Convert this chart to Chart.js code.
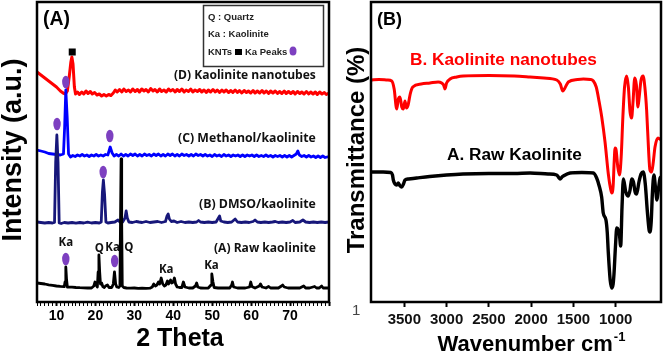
<!DOCTYPE html>
<html>
<head>
<meta charset="utf-8">
<script src="https://cdn.jsdelivr.net/npm/chart.js@4.4.0/dist/chart.umd.min.js"></script>
<style>
html,body{margin:0;padding:0;background:#fff;}
#wrap{position:relative;width:664px;height:355px;overflow:hidden;}
#xrd{position:absolute;left:0;top:0;}
#ftir{position:absolute;left:334px;top:0;}
</style>
</head>
<body>
<div id="wrap">
<canvas id="xrd" width="334" height="355"></canvas>
<canvas id="ftir" width="330" height="355"></canvas>
</div>
<script>
// ---- XRD (panel A): [2theta, intensity offset a.u.] ----
const rawKaolinite = [[5,19],[6,18.5],[7,18],[8,17.2],[9,16.6],[10,16],[11,15.6],[12,15.3],[12.2,20],[12.4,35],[12.6,22],[12.8,15],[14,14.8],[15,14.5],[16,14.3],[17,14.2],[18,14],[19,14],[19.6,16],[19.9,20],[20.2,17],[20.5,15],[20.7,30],[20.9,47],[21.1,30],[21.3,18],[21.6,19],[21.9,15.5],[22.3,14.5],[22.6,16],[23.1,17],[23.5,14.5],[24.2,14.5],[24.6,18],[24.9,30],[25.2,18],[25.5,15],[26,14.5],[26.3,16],[26.45,80],[26.6,143],[26.75,80],[26.9,16],[27.3,14.5],[28,14],[29,13.8],[30,14],[31,13.6],[32,13.8],[33,13.6],[34,13.8],[34.6,15],[35,18],[35.4,16],[35.8,17],[36.2,20],[36.5,18],[36.9,24],[37.3,18],[37.7,16],[38.1,17],[38.5,21],[38.8,18],[39.3,22],[39.6,19],[40,20],[40.3,24],[40.6,18],[41,15],[41.6,14.5],[42.2,14.5],[42.6,20],[43,15],[44,14],[45,14],[45.7,16],[46,19],[46.3,15],[47,14],[48,13.8],[49,14],[49.7,17],[49.9,28],[50.2,20],[50.5,14.5],[51.5,14],[53,14],[54.5,14],[55,17],[55.2,20],[55.5,15],[56.5,14],[57.5,14],[58.5,14],[59.6,15],[59.9,20],[60.2,15.5],[61,14],[62.1,16],[62.4,18],[62.8,15],[63.8,14],[64.5,15.5],[65,14],[66,14],[67,14],[67.8,16],[68.1,17],[68.5,15],[69.5,14],[70.5,14],[71.5,14],[72.5,14],[73.5,16],[74,14],[75,14],[76.3,15.5],[76.8,14],[77.5,14],[78.1,16],[78.5,14],[80,14]];

const dmsoKaolinite = [[5,80],[6,79.5],[7,79],[8,79.5],[9,79],[9.5,79.5],[9.8,140],[10.1,167],[10.4,140],[10.7,79],[11.2,78.5],[12,79.5],[13,79],[14,79.5],[15,78.8],[16,79.5],[17,79],[18,79.8],[19,79],[20,79.5],[21,79],[21.5,80],[21.8,110],[22.05,122],[22.35,108],[22.7,80],[23.2,79],[24,79.5],[25,80],[25.8,82],[26.3,80],[27,80],[27.6,84],[27.9,91],[28.2,84],[28.6,80],[29.5,79.5],[30.5,80.5],[31.2,80],[32,79.5],[33,80.5],[34,79.5],[35,80],[36,80.5],[37,79.5],[38,80.5],[38.4,86],[38.7,88],[39,83],[39.5,80.5],[40.2,81],[41,79.5],[42,80.5],[43,79.5],[44,80],[45,79.5],[46,80],[46.5,81.5],[47,80],[48,79.5],[49,80],[50,79.5],[51,80],[51.6,84],[51.9,86],[52.2,81],[53,80],[54,79.5],[55,80],[55.9,83],[56.5,80],[57.5,79.5],[58.5,80],[59.5,79.5],[60.5,80.5],[61,82],[61.6,80],[62.5,79.5],[63.5,80],[64.5,79.5],[65.5,80],[66.2,80.5],[67,79.5],[68,80],[69,79.5],[70,80],[70.7,81.5],[71.3,79.5],[72.5,80],[73.3,82],[74,80],[75,79.5],[76,80],[77,79.5],[78,80],[79,79.5],[80,80]];

const methanolKaolinite = [[5,152],[6,151],[7,150],[8,148.5],[9,148],[10,147.5],[11,147],[11.8,148],[12.1,175],[12.4,212],[12.75,185],[13.1,148],[13.6,145],[14.2,146.5],[14.8,145.5],[15.4,147],[16,146],[16.6,147.5],[17.2,146],[17.8,147],[18.4,145.5],[19,147],[19.6,146],[20.2,147.5],[20.8,146],[21.4,147],[22,146],[22.6,147.5],[23.2,147],[23.8,155],[24.3,149],[24.8,146],[25.4,147.5],[26,146],[26.6,148],[27.2,146],[27.8,147.5],[28.4,146],[29,148],[29.6,146.5],[30.2,148],[30.8,146],[31.4,147.5],[32,146],[32.6,148],[33.2,146.5],[33.8,147.5],[34.4,146],[35,148],[35.6,146.5],[36.2,148],[36.8,146],[37.4,147.5],[38,146],[38.6,148],[39.2,146.5],[39.8,148],[40.4,146],[41,147.5],[41.6,146],[42.2,148],[42.8,146.5],[43.4,147.5],[44,146],[44.6,147.5],[45.2,146],[45.8,148],[46.4,146.5],[47,147.5],[47.6,146],[48.2,147.5],[48.8,146],[49.4,147],[50,145.5],[50.6,147.5],[51.2,146],[51.8,147],[52.4,145.5],[53,147.5],[53.6,146],[54.2,147],[54.8,145.5],[55.4,147],[56,146],[56.6,147],[57.2,145.5],[57.8,147],[58.4,145.5],[59,147],[59.6,146],[60.2,147],[60.8,145.5],[61.4,147],[62,145.5],[62.6,146.5],[63.2,145.5],[63.8,147],[64.4,145.5],[65,146.5],[65.6,145],[66.2,146.5],[66.8,145.5],[67.4,146.5],[68,145],[68.6,146.5],[69.2,145],[69.8,146.5],[70.4,145],[71,146.5],[71.6,148],[72,151],[72.4,147],[73,145.5],[73.6,146.5],[74.2,145],[74.8,146.5],[75.4,145],[76,146],[76.6,144.5],[77.2,146],[77.8,144.5],[78.4,146],[79,144.5],[80,145.5]];

const kaoliniteNanotubes = [[5,230],[6,227],[7,224],[8,221],[9,218],[10,215],[11,211],[11.7,209],[12.3,208],[12.8,211],[13.3,226],[13.7,240],[13.95,245],[14.25,238],[14.6,215],[14.9,208],[15.4,210],[15.9,207.5],[16.5,210],[17,208],[17.6,211],[18.1,208.5],[18.7,210.5],[19.2,208],[19.8,209.5],[20.4,207],[21,208],[21.6,206],[22.2,207.5],[22.8,206],[23.4,207.5],[24,206.5],[24.6,209],[25.1,212],[25.6,210],[26.2,212.5],[26.8,210],[27.3,213],[27.9,210.5],[28.5,212],[29,210],[29.6,213],[30.2,210.5],[30.8,212.5],[31.3,210],[31.9,213],[32.5,211],[33,212.5],[33.6,210],[34.2,213.5],[34.8,211],[35.3,212.5],[35.9,210],[36.5,213],[37,210.5],[37.6,212],[38.2,210],[38.8,213],[39.3,211],[39.9,212.5],[40.5,210],[41,212.5],[41.6,210.5],[42.2,213],[42.8,210],[43.3,212],[43.9,210.5],[44.5,213],[45,210],[45.6,212],[46.2,210.5],[46.8,212.5],[47.3,210],[47.9,212],[48.5,209.5],[49,212],[49.6,210],[50.2,212.5],[50.8,210],[51.3,212],[51.9,209.5],[52.5,212],[53,210],[53.6,212],[54.2,209.5],[54.8,211.5],[55.3,209.5],[55.9,212],[56.5,209.5],[57,211.5],[57.6,209],[58.2,211.5],[58.8,209.5],[59.3,211],[59.9,209],[60.5,211.5],[61,209],[61.6,211],[62.2,209],[62.8,211.5],[63.3,209],[63.9,211],[64.5,208.5],[65,211],[65.6,209],[66.2,211],[66.8,208.5],[67.3,210.5],[67.9,208.5],[68.5,211],[69,208.5],[69.6,210.5],[70.2,208.5],[70.8,210.5],[71.3,208],[71.9,210.5],[72.5,208.5],[73,210],[73.6,208],[74.2,210.5],[74.8,208],[75.3,210],[75.9,208],[76.5,210],[77,207.5],[77.6,210],[78.2,208],[78.8,209.5],[79.3,207.5],[80,209]];

// peak markers [2theta, level]
const kaPeakMarks = [[12.4,220],[10.15,178],[23.7,166],[22.0,130],[12.4,43],[24.95,41]];
const kntMarks = [[14.05,250]];
// small phase labels on raw pattern [text, 2theta, level]
const phaseLabels = [['Ka',12.4,59.5],['Q',21.0,53.7],['Ka',24.4,54],['Q',28.6,54],['Ka',38.2,32.7],['Ka',49.8,36.7]];
const xrdLabels = ['(D) Kaolinite nanotubes','(C) Methanol/kaolinite','(B) DMSO/kaolinite','(A) Raw kaolinite'];
const xrdTickLabels = [10,20,30,40,50,60,70];

// ---- FTIR (panel B): [wavenumber, transmittance offset] ----
const ftirNanotubes = [[3894,222],[3800,222.5],[3700,222],[3649,221],[3620,213],[3590,193],[3570,203],[3551,205],[3530,195],[3512,193],[3492,201],[3475,194],[3455,197],[3430,208],[3400,215],[3300,218],[3196,219],[3100,220],[3058,219],[3035,217],[3019,213],[3000,219],[2959,223],[2880,225],[2802,226],[2500,226.5],[2200,226],[2013,225],[1850,224],[1697,222],[1655,218],[1625,211],[1600,214],[1560,220],[1450,222.5],[1382,223],[1300,222.5],[1264,221],[1230,215],[1195,200],[1165,185],[1126,160],[1087,128],[1060,113],[1046,109],[1030,116],[1018,140],[1007,154],[995,152],[975,135],[955,127],[935,145],[915,185],[895,215],[870,226],[850,215],[830,190],[812,184],[795,200],[775,224],[755,217],[737,195],[722,205],[700,222],[675,226],[655,215],[634,192],[610,150],[595,132],[574,130],[555,140],[535,155],[500,164],[464,162]];

const ftirRaw = [[3894,130],[3750,130],[3660,129.5],[3640,127],[3630,122],[3610,118],[3590,117],[3571,119],[3550,116],[3531,115],[3510,118],[3492,122],[3450,123],[3353,124],[3200,125.5],[3000,127],[2806,128],[2500,128.5],[2200,128.5],[2013,129],[1800,128],[1697,127],[1670,124],[1658,123],[1635,125],[1619,126],[1540,129],[1400,129.5],[1264,129],[1225,124],[1195,116],[1166,105],[1147,89],[1115,82],[1100,70],[1087,49],[1065,22],[1047,14],[1030,18],[1020,28],[1003,55],[987,74],[968,72],[956,68],[941,56],[925,95],[909,123],[880,110],[851,106],[830,112],[811,123],[790,120],[770,110],[752,108],[725,120],[700,128],[674,130],[650,118],[625,90],[605,72],[595,70],[580,80],[565,110],[548,127],[530,115],[512,102],[495,112],[475,124],[464,125]];

const ftirTickValues = [1000,1500,2000,2500,3000,3500];

const PURPLE = '#7d40c0';
const BOLD = 'Liberation Sans';

function pts(arr){ return arr.map(p => ({x:p[0], y:p[1]})); }

function fitText(ctx, text, weight, family, width){
  ctx.font = weight + ' 20px "' + family + '"';
  const s = 20 * width / ctx.measureText(text).width;
  ctx.font = weight + ' ' + s.toFixed(2) + 'px "' + family + '"';
}

function line(data, color, w){
  return {data: pts(data), borderColor: color, borderWidth: w, pointRadius: 0, fill: false, tension: 0, borderJoinStyle: 'round'};
}

// ---------- Panel A ----------
const xrdDecor = {
  id: 'xrdDecor',
  afterDatasetsDraw(chart){
    const ctx = chart.ctx, a = chart.chartArea;
    const xs = chart.scales.x, ys = chart.scales.y;
    ctx.save();
    // frame
    ctx.lineWidth = 2.5; ctx.strokeStyle = '#000';
    ctx.strokeRect(a.left, a.top, a.right - a.left, a.bottom - a.top);

    // peak markers
    ctx.fillStyle = PURPLE;
    kaPeakMarks.forEach(m => {
      ctx.beginPath();
      ctx.ellipse(xs.getPixelForValue(m[0]), ys.getPixelForValue(m[1]), 3.7, 6.3, 0, 0, Math.PI*2);
      ctx.fill();
    });
    ctx.fillStyle = '#000';
    kntMarks.forEach(m => {
      ctx.fillRect(xs.getPixelForValue(m[0]) - 3.5, ys.getPixelForValue(m[1]) - 3.5, 7, 7);
    });

    ctx.textBaseline = 'middle';
    // phase labels
    ctx.fillStyle = '#111';
    ctx.textAlign = 'center';
    ctx.font = 'bold 11.5px "Open Sans"';
    phaseLabels.forEach(l => ctx.fillText(l[0], xs.getPixelForValue(l[1]), ys.getPixelForValue(l[2])));

    // curve labels
    const lw = [142, 138, 117, 102], ly = [76, 138, 204, 249];
    ctx.textAlign = 'left';
    xrdLabels.forEach((t, i) => {
      fitText(ctx, t, 'bold', 'Open Sans', lw[i]);
      ctx.fillText(t, 316 - lw[i], ly[i]);
    });

    // panel letter
    ctx.fillStyle = '#000';
    fitText(ctx, '(A)', 'bold', BOLD, 27);
    ctx.fillText('(A)', 43, 20);

    // key box
    ctx.lineWidth = 1.5; ctx.strokeStyle = '#333';
    ctx.strokeRect(203.5, 5.5, 120, 61);
    ctx.fillStyle = '#222';
    ctx.font = 'bold 9.5px "Liberation Sans"';
    ctx.fillText('Q : Quartz', 208, 17);
    ctx.fillText('Ka : Kaolinite', 208, 34);
    ctx.fillText('KNTs', 208, 52);
    ctx.fillStyle = '#000';
    ctx.fillRect(235, 49, 7, 6);
    ctx.fillStyle = '#222';
    ctx.fillText('Ka Peaks', 245, 52);
    ctx.fillStyle = PURPLE;
    ctx.beginPath(); ctx.ellipse(293, 51, 3.5, 4.5, 0, 0, Math.PI*2); ctx.fill();

    // axis titles
    ctx.fillStyle = '#000';
    ctx.textAlign = 'center';
    ctx.font = 'bold 25px "Liberation Sans"';
    ctx.fillText('2 Theta', 180, 339);
    ctx.save();
    ctx.translate(14, 150);
    ctx.rotate(-Math.PI/2);
    ctx.font = 'bold 27px "Liberation Sans"';
    ctx.fillText('Intensity (a.u.)', 0, 0);
    ctx.restore();
    ctx.restore();
  }
};

new Chart(document.getElementById('xrd'), {
  type: 'line',
  data: {datasets: [
    line(rawKaolinite, '#000000', 2.8),
    line(dmsoKaolinite, '#17177a', 2.8),
    line(methanolKaolinite, '#0000ff', 2.8),
    line(kaoliniteNanotubes, '#ff0000', 3)
  ]},
  options: {
    responsive: false, animation: false, devicePixelRatio: 1,
    layout: {padding: {top: 2, right: 5, left: 0, bottom: 0}},
    plugins: {legend: {display: false}, tooltip: {enabled: false}},
    scales: {
      x: {
        type: 'linear', min: 5, max: 80,
        ticks: {stepSize: 1, autoSkip: false, maxRotation: 0, padding: 2, color: '#000',
          font: {family: BOLD, weight: 'bold', size: 14},
          callback: v => xrdTickLabels.includes(v) ? String(v) : ''},
        grid: {drawOnChartArea: false, drawTicks: true, tickLength: 4, tickColor: '#000',
          tickWidth: c => (c.tick && c.tick.value % 10 === 0) ? 2 : 1},
        border: {display: false},
        afterFit: s => { s.height = 53; }
      },
      y: {
        min: 0, max: 300,
        ticks: {display: false}, grid: {display: false}, border: {display: false},
        afterFit: s => { s.width = 37; }
      }
    }
  },
  plugins: [xrdDecor]
});

// ---------- Panel B ----------
const ftirDecor = {
  id: 'ftirDecor',
  afterDatasetsDraw(chart){
    const ctx = chart.ctx, a = chart.chartArea;
    ctx.save();
    ctx.lineWidth = 2.5; ctx.strokeStyle = '#000';
    ctx.strokeRect(a.left, a.top, a.right - a.left, a.bottom - a.top);
    ctx.textBaseline = 'middle';
    ctx.textAlign = 'left';
    ctx.fillStyle = '#000';
    fitText(ctx, '(B)', 'bold', BOLD, 25);
    ctx.fillText('(B)', 43, 20);
    ctx.fillStyle = '#ff0000';
    fitText(ctx, 'B. Kaolinite nanotubes', 'bold', BOLD, 187);
    ctx.fillText('B. Kaolinite nanotubes', 76, 60);
    ctx.fillStyle = '#000';
    fitText(ctx, 'A. Raw Kaolinite', 'bold', BOLD, 135);
    ctx.fillText('A. Raw Kaolinite', 113, 155);

    // stray label
    ctx.fillStyle = '#444';
    ctx.font = '15px "Liberation Sans"';
    ctx.fillText('1', 18, 311);

    // x title with superscript
    ctx.fillStyle = '#000';
    ctx.font = 'bold 22px "Liberation Sans"';
    const main = 'Wavenumber cm';
    const w1 = ctx.measureText(main).width;
    ctx.font = 'bold 13px "Liberation Sans"';
    const w2 = ctx.measureText('-1').width;
    const x0 = 197 - (w1 + w2) / 2;
    ctx.font = 'bold 22px "Liberation Sans"';
    ctx.fillText(main, x0, 345);
    ctx.font = 'bold 13px "Liberation Sans"';
    ctx.fillText('-1', x0 + w1 + 1, 337);

    // y title
    ctx.save();
    ctx.translate(23, 150);
    ctx.rotate(-Math.PI/2);
    ctx.textAlign = 'center';
    ctx.font = 'bold 24px "Liberation Sans"';
    ctx.fillText('Transmittance (%)', 0, 0);
    ctx.restore();
    ctx.restore();
  }
};

function smooth(data, color, w){
  return {data: pts(data), borderColor: color, borderWidth: w, pointRadius: 0, fill: false,
    cubicInterpolationMode: 'monotone', borderJoinStyle: 'round'};
}

new Chart(document.getElementById('ftir'), {
  type: 'line',
  data: {datasets: [
    smooth(ftirRaw, '#000000', 3.4),
    smooth(ftirNanotubes, '#ff0000', 3)
  ]},
  options: {
    responsive: false, animation: false, devicePixelRatio: 1,
    layout: {padding: {top: 2, right: 3, left: 0, bottom: 0}},
    plugins: {legend: {display: false}, tooltip: {enabled: false}},
    scales: {
      x: {
        type: 'linear', min: 464, max: 3894, reverse: true,
        afterBuildTicks: s => { s.ticks = ftirTickValues.map(v => ({value: v})); },
        ticks: {autoSkip: false, maxRotation: 0, padding: 4, color: '#111',
          font: {family: BOLD, weight: 'bold', size: 15},
          callback: v => String(v)},
        grid: {drawOnChartArea: false, drawTicks: true, tickLength: 5, tickColor: '#000', tickWidth: 2},
        border: {display: false},
        afterFit: s => { s.height = 53; }
      },
      y: {
        min: 0, max: 300,
        ticks: {display: false}, grid: {display: false}, border: {display: false},
        afterFit: s => { s.width = 37; }
      }
    }
  },
  plugins: [ftirDecor]
});
</script>
</body>
</html>
